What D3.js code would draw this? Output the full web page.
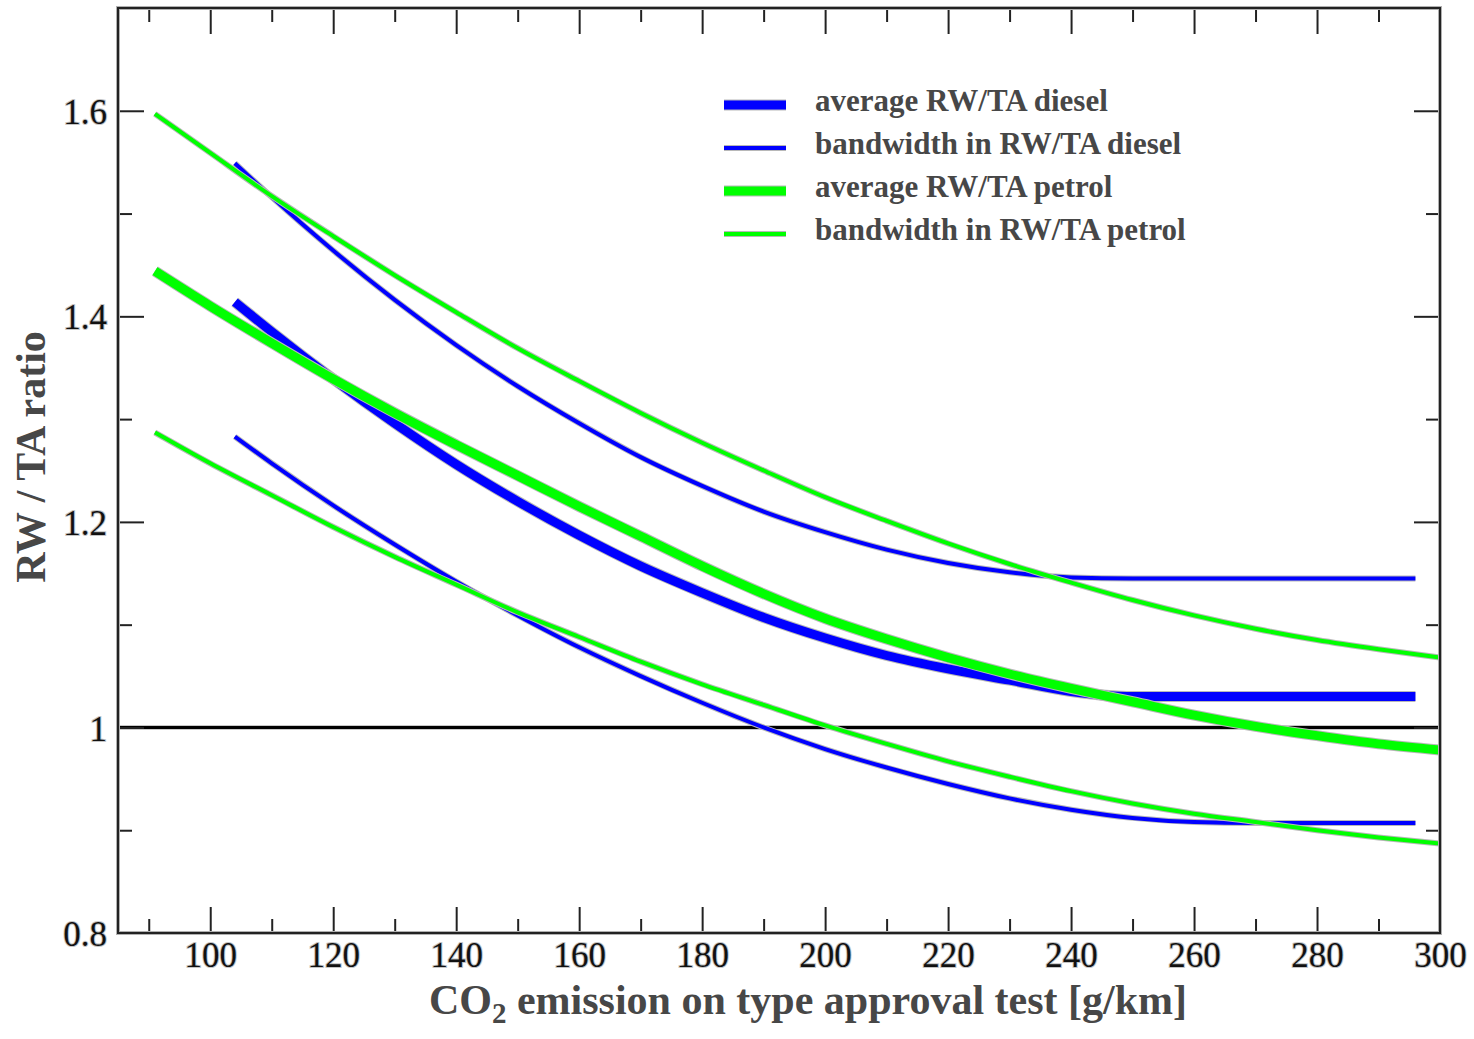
<!DOCTYPE html>
<html>
<head>
<meta charset="utf-8">
<script src="https://cdn.jsdelivr.net/npm/d3@7"></script>
<style>
	body { margin: 0; background: #fff; }
	svg { display: block; }
	.tickLabel text { font-family: 'Liberation Serif', 'Times New Roman', serif; font-size: 35px; fill: #111; paint-order: stroke; stroke: #c4c4c4; stroke-width: 2px; }
	.axisTitle { font-family: 'Liberation Serif', 'Times New Roman', serif; font-weight: bold; font-size: 42px; fill: #474747; }
	.legend text { font-family: 'Liberation Serif', 'Times New Roman', serif; font-weight: bold; font-size: 31px; fill: #474747; }
</style>
</head>
<body>
<script>

// CO2 on type approval test [g/km]
var petrolX = [91, 100, 110, 120, 130, 140, 150, 160, 170, 180, 190, 200, 210, 220, 230, 240, 250, 260, 270, 280, 290, 300];
var petrolAvg = [1.444, 1.410, 1.374, 1.339, 1.306, 1.275, 1.245, 1.215, 1.186, 1.157, 1.130, 1.106, 1.086, 1.068, 1.052, 1.038, 1.025, 1.012, 1.001, 0.992, 0.984, 0.978];
var petrolHigh = [1.597, 1.559, 1.517, 1.478, 1.440, 1.404, 1.369, 1.337, 1.306, 1.277, 1.250, 1.224, 1.201, 1.179, 1.159, 1.141, 1.124, 1.109, 1.096, 1.085, 1.076, 1.068];
var petrolLow = [1.287, 1.257, 1.226, 1.195, 1.166, 1.139, 1.112, 1.088, 1.064, 1.042, 1.022, 1.002, 0.984, 0.967, 0.952, 0.938, 0.926, 0.916, 0.908, 0.900, 0.893, 0.887];

var dieselX = [104, 110, 120, 130, 140, 150, 160, 170, 180, 190, 200, 210, 220, 230, 240, 250, 260, 270, 280, 290, 296];
var dieselAvg = [1.414, 1.385, 1.339, 1.296, 1.256, 1.220, 1.187, 1.157, 1.131, 1.107, 1.087, 1.070, 1.057, 1.046, 1.035, 1.030, 1.030, 1.030, 1.030, 1.030, 1.030];
var dieselHigh = [1.549, 1.516, 1.464, 1.416, 1.372, 1.332, 1.296, 1.263, 1.235, 1.210, 1.190, 1.173, 1.160, 1.151, 1.146, 1.145, 1.145, 1.145, 1.145, 1.145, 1.145];
var dieselLow = [1.283, 1.257, 1.216, 1.178, 1.142, 1.109, 1.078, 1.050, 1.024, 1.000, 0.979, 0.961, 0.945, 0.931, 0.920, 0.912, 0.908, 0.907, 0.907, 0.907, 0.907];

var xMajor = [100, 120, 140, 160, 180, 200, 220, 240, 260, 280, 300];
var xMinor = [90, 110, 130, 150, 170, 190, 210, 230, 250, 270, 290];
var yMajor = [0.8, 1, 1.2, 1.4, 1.6];
var yMajorLabels = ['0.8', '1', '1.2', '1.4', '1.6'];
var yMinor = [0.9, 1.1, 1.3, 1.5];

var legendLabels = ['average RW/TA diesel', 'bandwidth in RW/TA diesel', 'average RW/TA petrol', 'bandwidth in RW/TA petrol'];

var config = {
	size: {width: 1474, height: 1039},
	margin: {top: 8, right: 34, bottom: 106, left: 118},
	tick: {major: 26, minor: 14},
	blue: '#0000ff',
	green: '#00ff00',
	halo: '#b8b8b8',
	thick: 9,
	thin: 4
};

var w = config.size.width - config.margin.left - config.margin.right,
	h = config.size.height - config.margin.top - config.margin.bottom;

var x = d3.scaleLinear().domain([85, 300]).range([0, w]),
	y = d3.scaleLinear().domain([0.8, 1.7]).range([h, 0]);

var svg = d3.select('body').append('svg')
	.attr('width', config.size.width)
	.attr('height', config.size.height);

svg.append('rect')
	.attr('width', config.size.width)
	.attr('height', config.size.height)
	.attr('fill', '#fff');

var g = svg.append('g')
	.attr('transform', 'translate(' + config.margin.left + ',' + config.margin.top + ')');

// reference line at ratio 1
g.append('line')
	.attr('x1', 0).attr('x2', w)
	.attr('y1', y(1)).attr('y2', y(1))
	.attr('stroke', '#c8c8c8').attr('stroke-width', 5);
g.append('line')
	.attr('x1', 0).attr('x2', w)
	.attr('y1', y(1)).attr('y2', y(1))
	.attr('stroke', '#000').attr('stroke-width', 3);

function series(xs, ys)
{
	return xs.map(function(d, i){ return {x: d, y: ys[i]}; });
}

var line = d3.line()
	.x(function(d){ return x(d.x); })
	.y(function(d){ return y(d.y); })
	.curve(d3.curveMonotoneX);

var curves = [
	{data: series(dieselX, dieselAvg), color: config.blue, width: config.thick},
	{data: series(dieselX, dieselHigh), color: config.blue, width: config.thin},
	{data: series(dieselX, dieselLow), color: config.blue, width: config.thin},
	{data: series(petrolX, petrolAvg), color: config.green, width: config.thick},
	{data: series(petrolX, petrolHigh), color: config.green, width: config.thin},
	{data: series(petrolX, petrolLow), color: config.green, width: config.thin}
];

var curve = g.selectAll('g.curve').data(curves)
	.enter()
	.append('g')
	.attr('class', 'curve');

curve.append('path')
	.attr('d', function(d){ return line(d.data); })
	.attr('fill', 'none')
	.attr('stroke', config.halo)
	.attr('stroke-width', function(d){ return d.width + 2; });

curve.append('path')
	.attr('d', function(d){ return line(d.data); })
	.attr('fill', 'none')
	.attr('stroke', function(d){ return d.color; })
	.attr('stroke-width', function(d){ return d.width; });

// axes, ticks pointing inward on all four sides
function styleAxis(sel)
{
	sel.select('.domain').remove();
	sel.selectAll('.tick line')
		.attr('stroke', '#222')
		.attr('stroke-width', 2);
}

var labelIndex = function(d){ return yMajorLabels[yMajor.indexOf(d)]; };

g.append('g')
	.attr('class', 'tickLabel')
	.attr('transform', 'translate(0,' + h + ')')
	.call(d3.axisBottom(x).tickValues(xMajor).tickSize(-config.tick.major).tickPadding(9).tickFormat(d3.format('d')))
	.call(styleAxis)
	.selectAll('text').attr('font-size', null).attr('font-family', null).attr('fill', null);

g.append('g')
	.attr('transform', 'translate(0,' + h + ')')
	.call(d3.axisBottom(x).tickValues(xMinor).tickSize(-config.tick.minor).tickFormat(''))
	.call(styleAxis);

g.append('g')
	.call(d3.axisTop(x).tickValues(xMajor).tickSize(-config.tick.major).tickFormat(''))
	.call(styleAxis);

g.append('g')
	.call(d3.axisTop(x).tickValues(xMinor).tickSize(-config.tick.minor).tickFormat(''))
	.call(styleAxis);

g.append('g')
	.attr('class', 'tickLabel')
	.call(d3.axisLeft(y).tickValues(yMajor).tickSize(-config.tick.major).tickPadding(11).tickFormat(labelIndex))
	.call(styleAxis)
	.selectAll('text').attr('font-size', null).attr('font-family', null).attr('fill', null).attr('dy', '0.36em');

g.append('g')
	.call(d3.axisLeft(y).tickValues(yMinor).tickSize(-config.tick.minor).tickFormat(''))
	.call(styleAxis);

g.append('g')
	.attr('transform', 'translate(' + w + ',0)')
	.call(d3.axisRight(y).tickValues(yMajor).tickSize(-config.tick.major).tickFormat(''))
	.call(styleAxis);

g.append('g')
	.attr('transform', 'translate(' + w + ',0)')
	.call(d3.axisRight(y).tickValues(yMinor).tickSize(-config.tick.minor).tickFormat(''))
	.call(styleAxis);

// frame
g.append('rect')
	.attr('width', w).attr('height', h)
	.attr('fill', 'none')
	.attr('stroke', '#b0b0b0')
	.attr('stroke-width', 4);
g.append('rect')
	.attr('width', w).attr('height', h)
	.attr('fill', 'none')
	.attr('stroke', '#222')
	.attr('stroke-width', 2);

// titles
var xTitle = svg.append('text')
	.attr('class', 'axisTitle')
	.attr('x', 808)
	.attr('y', 1014)
	.attr('text-anchor', 'middle');
xTitle.append('tspan').text('CO');
xTitle.append('tspan').attr('font-size', '29px').attr('dy', 9).text('2');
xTitle.append('tspan').attr('dy', -9).text(' emission on type approval test [g/km]');

svg.append('text')
	.attr('class', 'axisTitle')
	.attr('transform', 'translate(45,457) rotate(-90)')
	.attr('text-anchor', 'middle')
	.text('RW / TA ratio');

// legend
var legendItems = [
	{label: legendLabels[0], color: config.blue, width: config.thick},
	{label: legendLabels[1], color: config.blue, width: config.thin},
	{label: legendLabels[2], color: config.green, width: config.thick},
	{label: legendLabels[3], color: config.green, width: config.thin}
];

var legend = svg.append('g')
	.attr('class', 'legend')
	.attr('transform', 'translate(724,105)');

var item = legend.selectAll('g.item').data(legendItems)
	.enter()
	.append('g')
	.attr('class', 'item')
	.attr('transform', function(d, i){ return 'translate(0,' + (i * 43) + ')'; });

item.append('line')
	.attr('x1', 0).attr('x2', 62)
	.attr('stroke', config.halo)
	.attr('stroke-width', function(d){ return d.width + 2; });

item.append('line')
	.attr('x1', 0).attr('x2', 62)
	.attr('stroke', function(d){ return d.color; })
	.attr('stroke-width', function(d){ return d.width; });

item.append('text')
	.attr('x', 91)
	.attr('y', 6)
	.text(function(d){ return d.label; });

</script>
</body>
</html>
